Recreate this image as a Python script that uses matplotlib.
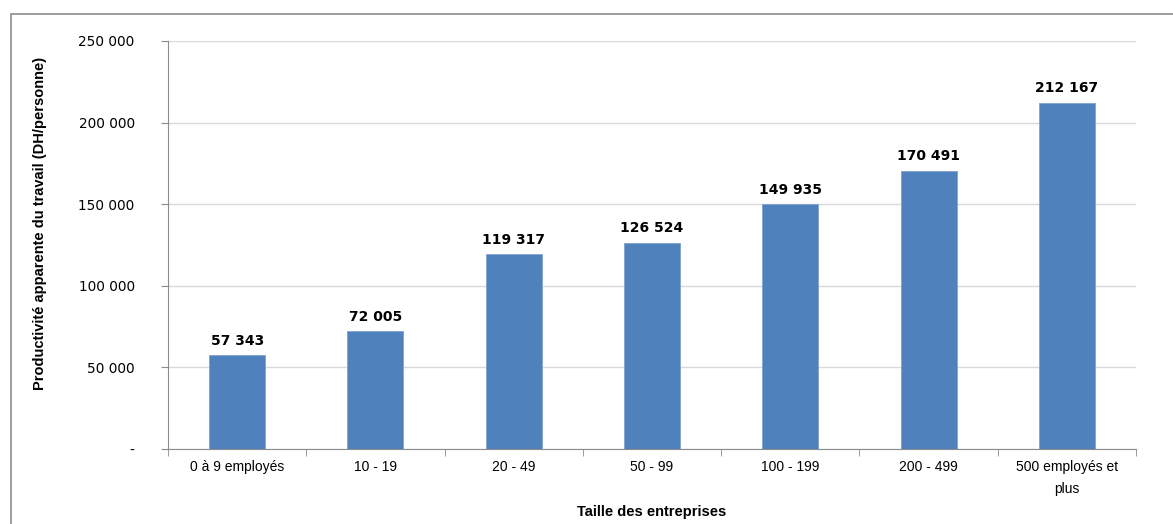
import matplotlib
matplotlib.use("Agg")
import matplotlib.pyplot as plt
from matplotlib.patches import Rectangle

categories = ["0 à 9 employés", "10 - 19", "20 - 49", "50 - 99", "100 - 199", "200 - 499", "500 employés et\nplus"]
values = [57343, 72005, 119317, 126524, 149935, 170491, 212167]
yticks = [0, 50000, 100000, 150000, 200000, 250000]
ytick_labels = ["-", "50 000", "100 000", "150 000", "200 000", "250 000"]

def fmt(v):
    return f"{v:,}".replace(",", " ")

fig = plt.figure(figsize=(11.73, 5.24), dpi=100)
fig.patches.append(Rectangle((11/1173, -0.1), 1.2, 0.1 + 1 - 14/524, transform=fig.transFigure,
                             fill=False, edgecolor="#8c8c8c", linewidth=1.2))
ax = fig.add_axes([168/1173, 75/524, (1136-168)/1173, (449-41)/524])

x = list(range(len(categories)))
ax.bar(x, values, width=0.405, color="#4F81BD", edgecolor="#7fa3d0", linewidth=0.6, zorder=3)
for xi, v in zip(x, values):
    ax.text(xi, v + 4500, fmt(v), ha="center", va="bottom", fontsize=10,
            fontweight="bold", family="DejaVu Sans", color="black")

ax.set_xlim(-0.5, len(categories) - 0.5)
ax.set_ylim(0, 250000)
ax.set_yticks(yticks)
ax.set_yticklabels(ytick_labels, family="DejaVu Sans", fontsize=9.8)
ax.set_xticks(x)
ax.set_xticklabels(categories, family=["Liberation Sans Narrow", "Liberation Sans", "DejaVu Sans"], fontsize=10, linespacing=1.7)
ax.set_xticks([i - 0.5 for i in range(len(categories) + 1)], minor=True)
ax.tick_params(axis="x", which="major", length=0, pad=8)
ax.tick_params(axis="x", which="minor", length=5, color="#8c8c8c", direction="out")
ax.tick_params(axis="y", length=5, color="#8c8c8c", pad=19)
ax.grid(axis="y", color="#d9d9d9", linewidth=1, zorder=0)
for s in ["top", "right"]:
    ax.spines[s].set_visible(False)
for s in ["left", "bottom"]:
    ax.spines[s].set_color("#8c8c8c")
ax.set_xlabel("Taille des entreprises", fontweight="bold", fontsize=10.5,
              family=["Liberation Sans Narrow", "Liberation Sans", "DejaVu Sans"])
ax.xaxis.set_label_coords(0.5, -(512 - 449) / 408)
ax.set_ylabel("Productivité apparente du travail (DH/personne)", fontweight="bold", fontsize=10.5,
              family=["Liberation Sans Narrow", "Liberation Sans", "DejaVu Sans"])
ax.yaxis.set_label_coords((40 - 168) / 968, (449 - 223) / 408)
ax.yaxis.label.set_verticalalignment("center")
ax.xaxis.label.set_verticalalignment("center")

fig.savefig("out.png", dpi=100)
